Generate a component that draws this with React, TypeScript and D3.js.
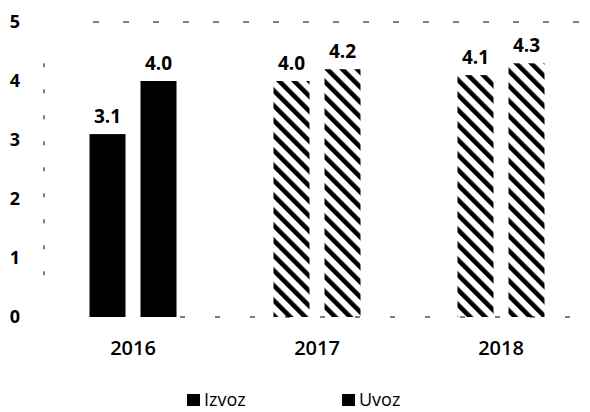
import React from "react";
import * as d3 from "d3";

const years = ["2016", "2017", "2018"];
const series = ["Izvoz", "Uvoz"];
const izvoz = [3.1, 4.0, 4.1];
const uvoz = [4.0, 4.2, 4.3];
const hatched = [false, true, true];
const yTicks = [0, 1, 2, 3, 4, 5];

const W = 590;
const H = 412;

export default function App() {
  const x = d3.scaleBand<string>().domain(years).range([41, 593]).paddingInner(0).paddingOuter(0);
  const y = d3.scaleLinear().domain([0, 5]).range([317, 22]);
  const groupW = 87;
  const inner = d3
    .scaleBand<string>()
    .domain(series)
    .range([0, groupW])
    .paddingInner(15 / 51);
  const font = "'Open Sans', 'DejaVu Sans', sans-serif";
  const values = [izvoz, uvoz];

  return (
    <svg
      width={W}
      height={H}
      style={{ position: "absolute", left: 0, top: 0, background: "#fff" }}
      fontFamily={font}
    >
      <defs>
        <pattern
          id="hatch"
          patternUnits="userSpaceOnUse"
          width={10.6}
          height={10.6}
          patternTransform="rotate(-45)"
        >
          <rect x={0} y={0} width={4.6} height={10.6} fill="#000" />
        </pattern>
      </defs>
      {/* faint scan-like dashed lines */}
      <line x1={93} x2={590} y1={y(5)} y2={y(5)} stroke="#000" strokeWidth={1.2} strokeDasharray="6 24" />
      <line x1={180} x2={590} y1={y(0)} y2={y(0)} stroke="#000" strokeWidth={1} strokeDasharray="5 30" />
      <line x1={44} x2={44} y1={y(4.3)} y2={y(0.7)} stroke="#000" strokeWidth={1} strokeDasharray="4 22" />

      {yTicks.map((t) => (
        <text
          key={t}
          x={15}
          y={y(t)}
          dy="0.35em"
          textAnchor="middle"
          fontSize={18}
          fontWeight="bold"
          fill="#000"
        >
          {t}
        </text>
      ))}

      {years.map((yr, i) => {
        const gx = (x(yr) as number) + (x.bandwidth() - groupW) / 2;
        return (
          <g key={yr}>
            {series.map((s, j) => {
              const v = values[j][i];
              const bx = gx + (inner(s) as number);
              const bw = inner.bandwidth();
              return (
                <g key={s}>
                  <rect
                    x={bx}
                    y={y(v)}
                    width={bw}
                    height={y(0) - y(v)}
                    fill={hatched[i] ? "url(#hatch)" : "#000"}
                  />
                  <text
                    x={bx + bw / 2}
                    y={y(v) - 11}
                    textAnchor="middle"
                    fontSize={19}
                    fontWeight="bold"
                    fill="#000"
                  >
                    {v.toFixed(1)}
                  </text>
                </g>
              );
            })}
            <text
              x={(x(yr) as number) + x.bandwidth() / 2}
              y={355}
              textAnchor="middle"
              fontSize={20}
              fontWeight={600}
              fill="#000"
            >
              {yr}
            </text>
          </g>
        );
      })}

      {series.map((s, j) => {
        const lx = j === 0 ? 187 : 342;
        return (
          <g key={s}>
            <rect x={lx} y={394} width={13} height={12} fill="#000" />
            <text x={lx + 17} y={406} fontSize={18} fill="#000">
              {s}
            </text>
          </g>
        );
      })}
    </svg>
  );
}
